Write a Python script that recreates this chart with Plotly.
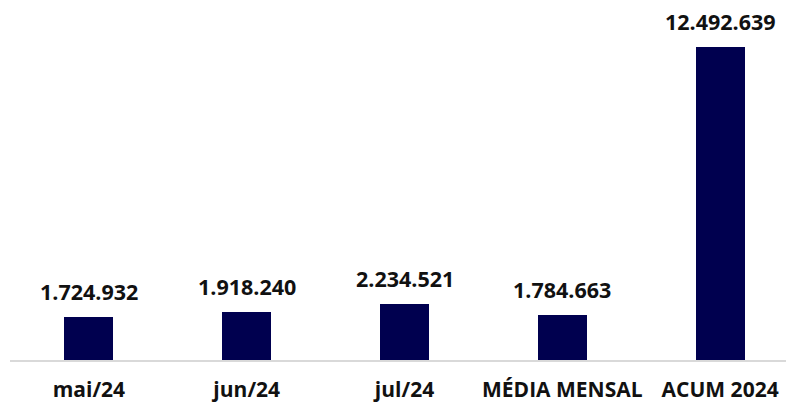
import plotly.graph_objects as go

categories = ["mai/24", "jun/24", "jul/24", "MÉDIA MENSAL", "ACUM 2024"]
values = [1724932, 1918240, 2234521, 1784663, 12492639]

def fmt(v):
    return f"{v:,}".replace(",", ".")

labels = [fmt(v) for v in values]

FONT = "Open Sans"
fig = go.Figure()
fig.add_trace(go.Bar(
    x=list(range(len(categories))), y=values,
    marker=dict(color="#00004f", line=dict(width=0)),
    width=0.31,
))
for i, (v, t) in enumerate(zip(values, labels)):
    fig.add_annotation(x=i, y=v, text=f"<b>{t}</b>", showarrow=False,
                       yanchor="bottom", yshift=9,
                       font=dict(family=FONT, size=21.5, color="#111111"))

fig.update_layout(
    width=786, height=395,
    margin=dict(l=2, r=0, t=2, b=43),
    paper_bgcolor="white", plot_bgcolor="white",
    showlegend=False,
    bargap=0,
    xaxis=dict(
        range=[-0.5, 4.468],
        tickmode="array", tickvals=list(range(len(categories))),
        ticktext=[f"<b>{c}</b>" for c in categories],
        tickfont=dict(family=FONT, size=21, color="#111111"),
        showline=True, linecolor="#d9d9d9", linewidth=2,
        showgrid=False, ticks="", zeroline=False,
        ticklabelstandoff=10, automargin=False,
    ),
    yaxis=dict(range=[0, 13970000], visible=False, showgrid=False,
               zeroline=False, automargin=False),
)
fig.write_html("out.html")
